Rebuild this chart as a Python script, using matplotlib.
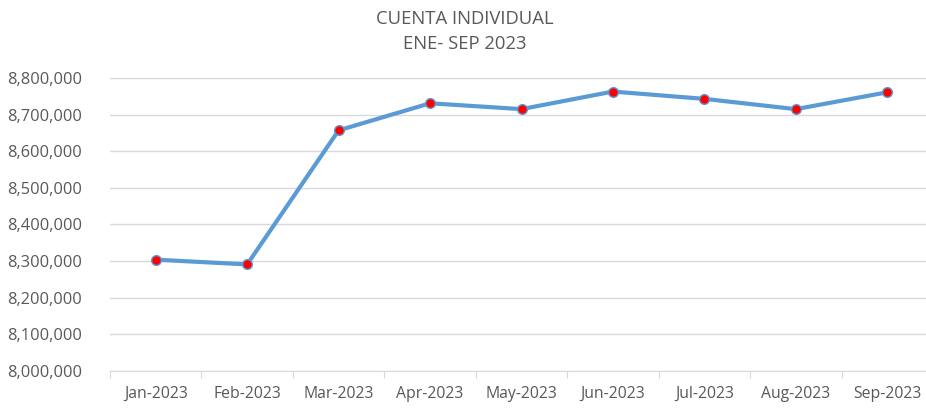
import matplotlib.pyplot as plt
from matplotlib.ticker import FuncFormatter

# datos
meses = ["Jan-2023", "Feb-2023", "Mar-2023", "Apr-2023", "May-2023",
         "Jun-2023", "Jul-2023", "Aug-2023", "Sep-2023"]
cuentas = [8304000, 8291000, 8657000, 8731000, 8715000,
           8763000, 8743000, 8715000, 8761000]

plt.rcParams['font.family'] = ['Open Sans', 'DejaVu Sans']
gris = '#595959'

fig = plt.figure(figsize=(9.26, 4.12), dpi=100)
ax = fig.add_axes([110 / 926, 41 / 412, 823 / 926, 293 / 412])

x = list(range(len(meses)))
ax.plot(x, cuentas, color='#5B9BD5', linewidth=3, marker='o',
        markersize=7, markerfacecolor='red', markeredgecolor='#5B9BD5',
        markeredgewidth=1, zorder=3)

ax.set_xlim(-0.5, len(meses) - 0.5)
ax.set_ylim(8000000, 8800000)
ax.set_yticks(range(8000000, 8800001, 100000))
ax.yaxis.set_major_formatter(FuncFormatter(lambda v, p: f"{int(v):,}"))
ax.grid(axis='y', color='#D9D9D9', linewidth=1)
ax.set_axisbelow(True)

# ticks entre categorias
ax.set_xticks([i - 0.5 for i in range(len(meses) + 1)])
ax.set_xticklabels([])
ax.set_xticks(x, minor=True)
ax.set_xticklabels(meses, minor=True)
ax.tick_params(axis='x', which='major', length=5, color='#D9D9D9', direction='out')
ax.tick_params(axis='x', which='minor', length=0, labelsize=11.3, labelcolor=gris, pad=11)
ax.tick_params(axis='y', length=0, labelsize=11.8, labelcolor=gris, pad=20)

for s in ['top', 'right', 'left']:
    ax.spines[s].set_visible(False)
ax.spines['bottom'].set_color('#D9D9D9')

fig.text(0.502, 0.953, "CUENTA INDIVIDUAL", ha='center', va='center', fontsize=13.3, color=gris)
fig.text(0.502, 0.893, "ENE- SEP 2023", ha='center', va='center', fontsize=13.3, color=gris)

fig.savefig("out.png", dpi=100)
